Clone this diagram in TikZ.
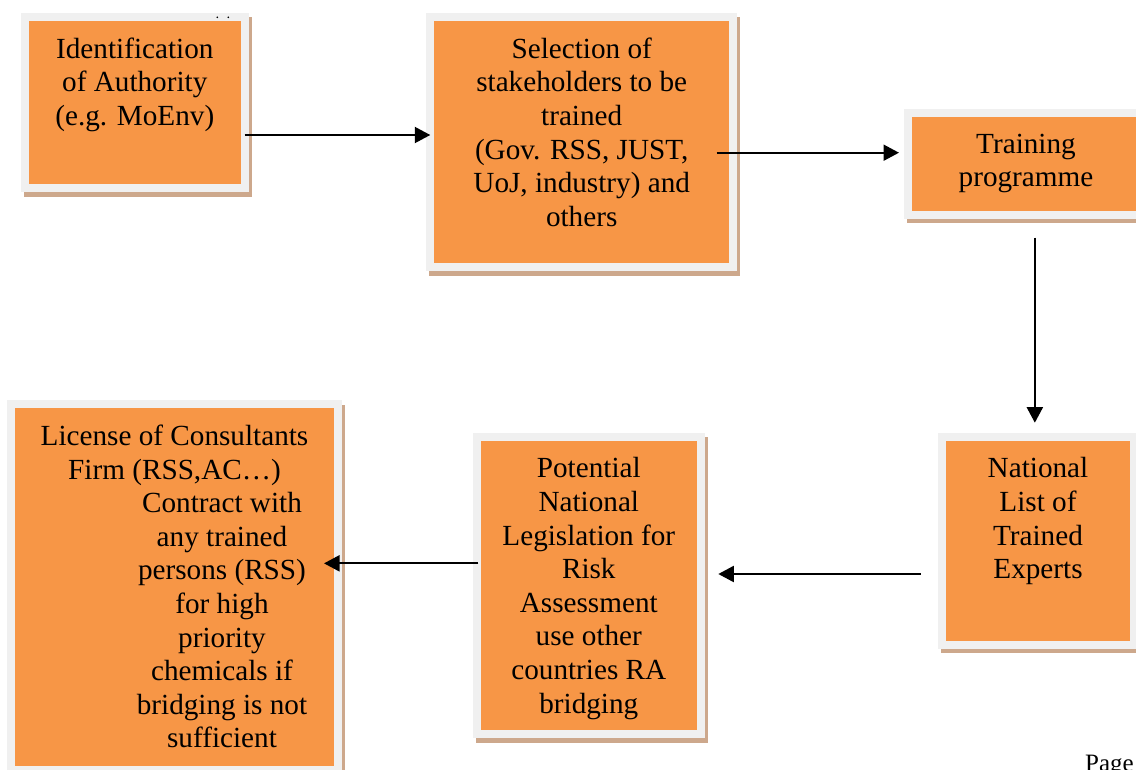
\documentclass[tikz,border=0pt]{standalone}
\usepackage{fontspec}
\setmainfont{Liberation Serif}
\usetikzlibrary{arrows.meta}
\definecolor{boxorange}{HTML}{F79646}
\definecolor{framegrey}{HTML}{F0F0F0}
\definecolor{shadowtan}{RGB}{205,168,140}
\tikzset{
  flowbox/.style={rectangle, draw=framegrey, line width=8pt, fill=boxorange,
    inner sep=0pt, outer sep=0pt, anchor=north west,
    preaction={draw=shadowtan, fill=shadowtan, line width=8pt,
      transform canvas={shift={(3pt,-4.5pt)}}}},
  boxtext/.style={anchor=north, inner sep=0pt, align=center,
    font=\fontsize{29.2}{33.6}\selectfont},
  arr/.style={line width=2pt, -{Triangle[length=15.5pt,width=16pt]}}
}
\begin{document}
\begin{tikzpicture}[x=1pt,y=-1pt]
\useasboundingbox (0,0) rectangle (1136,769);
% boxes (path on the middle of the grey frame)
\node[flowbox, minimum width=219.7pt, minimum height=171.6pt] (b1) at (25,16.7) {};
\node[flowbox, minimum width=302.7pt, minimum height=250.6pt] (b2) at (430.3,16.7) {};
\node[flowbox, minimum width=235.7pt, minimum height=102pt] (b3) at (908.3,112.7) {};
\node[flowbox, minimum width=192pt, minimum height=208pt] (b4) at (942,436.7) {};
\node[flowbox, minimum width=223.7pt, minimum height=297.3pt] (b5) at (477,436.7) {};
\node[flowbox, minimum width=327.3pt, minimum height=365.7pt] (b6) at (11,404.3) {};
% small dots
\fill (217.3,17.3) circle (0.9) coordinate (d1);
\fill (228.3,17.3) circle (0.9) coordinate (d2);
% texts
\node[boxtext] (t1) at (134.8,37.5) {Identification\\of Authority\\(e.g. MoEnv)};
\node[boxtext] (t2) at (581.7,37.5) {Selection of\\stakeholders to be\\trained\\(Gov. RSS, JUST,\\UoJ, industry) and\\others};
\node[boxtext] (t3) at (1026,133.5) {Training\\programme};
\node[boxtext] (t4) at (1038,457.5) {National\\List of\\Trained\\Experts};
\node[boxtext] (t5) at (588.8,457.5) {Potential\\National\\Legislation for\\Risk\\Assessment\\use other\\countries RA\\bridging};
\node[boxtext] (t6a) at (174.5,425.2) {License of Consultants\\Firm (RSS,AC…)};
\node[boxtext] (t6b) at (222,492.2) {Contract with\\any trained\\persons (RSS)\\for high\\priority\\chemicals if\\bridging is not\\sufficient};
\node[anchor=base west, inner sep=0pt, font=\fontsize{25}{30}\selectfont] (pg) at (1085,771.5) {Page};
% connectors
\coordinate (a1s) at ([yshift=-32.5pt]b1.east);
\coordinate (a1e) at (a1s -| b2.west);
\draw[arr] (a1s) -- (a1e);
\coordinate (a2s) at ([shift={(-16.3pt,-10.7pt)}]b2.east);
\coordinate (a2m) at (a2s -| b3.west);
\draw[arr] (a2s) -- ([xshift=-9.3pt]a2m);
\coordinate (a3s) at ([shift={(8.7pt,-23pt)}]b3.south);
\coordinate (a3m) at (a3s |- b4.north);
\draw[arr] (a3s) -- ([yshift=14pt]a3m);
\coordinate (a4s) at ([shift={(-21.3pt,-33.3pt)}]b4.west);
\coordinate (a4m) at (a4s -| b5.east);
\draw[arr] (a4s) -- ([xshift=17.6pt]a4m);
\coordinate (a5s) at ([shift={(1.3pt,22pt)}]b5.west);
\coordinate (a5m) at (a5s -| b6.east);
\draw[arr] (a5s) -- ([xshift=-14.3pt]a5m);
\end{tikzpicture}
\end{document}
